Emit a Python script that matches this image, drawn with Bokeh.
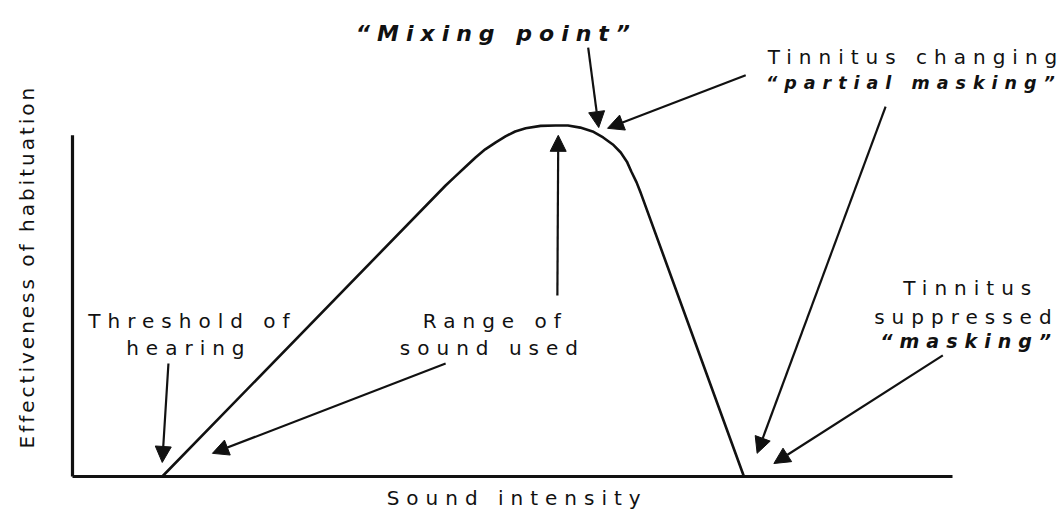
import math
from bokeh.plotting import figure
from bokeh.models import Range1d, Arrow, NormalHead, ColumnDataSource, InlineStyleSheet
from bokeh.layouts import row
from bokeh.core.properties import value
from bokeh.embed import file_html
from bokeh.resources import INLINE

# ---------------- data (x: sound intensity 0-100, y: effectiveness 0-100) ----------------
curve_x = [10.2, 42.4, 43.5, 44.7, 45.8, 46.9, 48.1, 49.2, 50.3, 51.5, 53.2, 54.9,
           56.3, 57.7, 59.1, 60.3, 61.4, 62.3, 63.0, 63.5, 64.1, 64.6, 76.3]
curve_y = [0.0, 82.9, 85.5, 88.3, 90.9, 93.2, 95.2, 96.9, 98.3, 99.2, 99.9, 100.0,
           100.0, 99.4, 98.3, 96.6, 94.6, 92.3, 89.7, 86.9, 83.8, 80.6, 0.0]

axis_x_end = 100.0   # end of the sound-intensity axis
axis_y_end = 97.2    # top of the effectiveness axis

# annotation arrows: tail (x0, y0) -> tip (x1, y1)
arrow_x0 = [58.6, 76.5, 92.4, 98.9, 10.9, 42.4, 55.1]
arrow_y0 = [122.2, 114.3, 105.4, 34.5, 32.2, 32.2, 51.6]
arrow_x1 = [59.8, 60.8, 77.8, 79.7, 10.2, 15.9, 55.2]
arrow_y1 = [99.4, 99.2, 6.6, 3.7, 4.0, 6.6, 97.2]

# annotation texts (left edge x, baseline y)
label_text = ["\u201cMixing point\u201d", "Tinnitus changing", "\u201cpartial masking\u201d",
              "Threshold of", "hearing", "Range of", "sound used",
              "Tinnitus", "suppressed", "\u201cmasking\u201d"]
label_x = [32.2, 79.0, 78.8, 1.8, 6.1, 39.8, 37.2, 94.4, 91.1, 91.8]
label_y = [126.2, 119.4, 112.0, 44.4, 36.5, 44.4, 36.5, 53.8, 45.3, 38.7]
label_emph = [True, False, True, False, False, False, False, False, False, True]

x_title = "Sound intensity"
y_title = "Effectiveness of habituation"

# ---------------- layout / style ----------------
FONT = "DejaVu Sans"
INK = "#111111"
W, H = 1064, 511
LEFT_W = 48
OX, OY = 72, 476          # page pixel of data origin
SX, SY = 8.8, 3.51        # pixels per data unit

x_range = Range1d((LEFT_W - OX) / SX, (W - OX) / SX)
y_range = Range1d((OY - H) / SY, OY / SY)

p = figure(width=W - LEFT_W, height=H, x_range=x_range, y_range=y_range,
           output_backend="svg", toolbar_location=None,
           x_axis_location=None, y_axis_location=None, min_border=0)
p.grid.visible = False
p.outline_line_color = None
p.background_fill_color = "white"
p.border_fill_color = "white"
p.stylesheets = [InlineStyleSheet(css=":host { letter-spacing: 7px; }")]

# axes drawn as lines through the scales
p.line([0, 0], [0, axis_y_end], line_width=3.2, color=INK)
p.line([0, axis_x_end], [0, 0], line_width=3, color=INK)

# curve
p.line(curve_x, curve_y, line_width=2.6, color=INK, line_join="round")

# arrows
src = ColumnDataSource(dict(x0=arrow_x0, y0=arrow_y0, x1=arrow_x1, y1=arrow_y1))
p.add_layout(Arrow(x_start="x0", y_start="y0", x_end="x1", y_end="y1", source=src,
                   line_color=INK, line_width=2.2,
                   end=NormalHead(size=16, fill_color=INK, line_color=INK, line_width=1)))

# labels
for t, x, y, emph in zip(label_text, label_x, label_y, label_emph):
    if emph:
        if t.startswith("\u201cMixing"):
            size = "22px"
        elif t.startswith("\u201cpartial"):
            size = "17.5px"
        else:
            size = "19px"
        style = "bold italic"
    else:
        size = "20px"
        style = "normal"
    p.text(x=[x], y=[y], text=[t], text_font=value(FONT), text_font_size=size,
           text_font_style=style, text_color=INK, text_align="left",
           text_baseline="alphabetic")

# x title
p.text(x=[35.7], y=[-6.0], text=[x_title], text_font=value(FONT), text_font_size="20px",
       text_color=INK, text_align="left", text_baseline="alphabetic")

# left strip with the rotated y title (shares the y scale)
q = figure(width=LEFT_W, height=H, x_range=Range1d(0, LEFT_W), y_range=y_range,
           output_backend="svg", toolbar_location=None,
           x_axis_location=None, y_axis_location=None, min_border=0)
q.grid.visible = False
q.outline_line_color = None
q.background_fill_color = "white"
q.border_fill_color = "white"
q.stylesheets = [InlineStyleSheet(css=":host { letter-spacing: 3px; }")]
q.text(x=[26], y=[8.0], text=[y_title], angle=math.pi / 2, text_font=value(FONT),
       text_font_size="20px", text_color=INK, text_align="left",
       text_baseline="alphabetic")

layout = row(q, p, spacing=0)
open("out.html", "w").write(file_html(layout, INLINE))
